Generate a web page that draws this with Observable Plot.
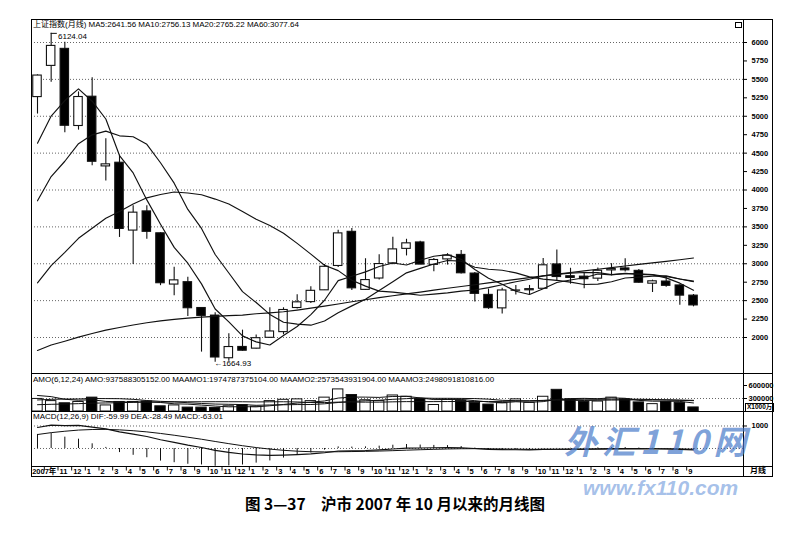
<!DOCTYPE html>
<html><head><meta charset="utf-8">
<script src="https://cdn.jsdelivr.net/npm/d3@7"></script>
<script src="https://cdn.jsdelivr.net/npm/@observablehq/plot@0.6"></script>
<style>
html,body{margin:0;padding:0;background:#fff;}
#root{position:relative;width:806px;height:541px;overflow:hidden;font-family:"Liberation Sans",Arial,sans-serif;color:#000}
.abs{position:absolute}
.txt{position:absolute;white-space:nowrap;line-height:1;font-family:"Liberation Sans","Noto Sans CJK SC",sans-serif;color:#000}
.ln{position:absolute;background:#000}
</style></head><body><div id="root"></div>
<script>
// ---- data (monthly Shanghai Composite, Sep 2007 - Sep 2011) ----
const dateLabels = ["2007年","","11","12",
  "1","2","3","4","5","6","7","8","9","10","11","12",
  "1","2","3","4","5","6","7","8","9","10","11","12",
  "1","2","3","4","5","6","7","8","9","10","11","12",
  "1","2","3","4","5","6","7","8","9"];
const open  = [5260,5683,5914,4868,5265,4320,4370,3450,3710,3413,2718,2750,2400,2297,1719,1872,1849,1996,2073,2400,2480,2640,2970,3433,2646,2800,3005,3202,3289,2985,3059,3120,2867,2578,2395,2634,2640,2661,2991,2831,2825,2798,2910,2937,2904,2730,2759,2706,2568];
const high  = [5562,6124.04,6005,5330,5522,4695,4472,3786,3786,3420,2952,2818,2401,2336,2050,2100,2033,2402,2403,2579,2689,2990,3454,3478,3068,3123,3361,3332,3306,3071,3137,3181,2881,2656,2668,2706,2706,3073,3186,2939,2868,2942,3001,3067,2922,2778,2827,2716,2583];
const low   = [5030,5462,4778,4812,4330,4123,3357,2990,3334,2703,2566,2284,1802,1664.93,1678,1814,1844,1991,2037,2386,2461,2638,2950,2639,2639,2780,2987,3106,2986,2890,2982,2860,2481,2382,2319,2578,2573,2661,2768,2723,2661,2760,2836,2887,2736,2610,2680,2437,2416];
const close = [5552,5954,4871,5261,4383,4348,3472,3693,3433,2736,2775,2397,2293,1729,1871,1821,1991,2082,2373,2477,2633,2959,3412,2667,2779,2996,3195,3277,2989,3051,3110,2871,2592,2398,2638,2638,2656,2979,2820,2808,2791,2905,2928,2911,2743,2762,2701,2568,2435];
const ma5   = [4634,5003,5213,5371,5204,4963,4467,4231,3866,3536,3222,3007,2727,2386,2213,2022,1941,1899,2028,2149,2311,2505,2771,2830,2890,2963,3010,2983,3047,3102,3124,3060,2923,2804,2722,2627,2584,2662,2746,2780,2811,2861,2850,2869,2856,2850,2809,2737,2642];
const ma10  = [3854,4182,4390,4628,4748,4799,4735,4722,4619,4370,4093,3737,3479,3126,2875,2622,2474,2313,2207,2181,2167,2223,2335,2429,2519,2637,2757,2877,2938,2996,3044,3035,2953,2926,2912,2876,2822,2792,2775,2751,2719,2723,2756,2807,2818,2830,2835,2794,2756];
const ma20  = [2742,2975,3154,3345,3482,3616,3709,3810,3894,3939,3973,3959,3935,3877,3811,3710,3604,3518,3413,3276,3130,2980,2907,2777,2697,2629,2616,2595,2573,2588,2605,2629,2644,2677,2716,2756,2790,2835,2857,2873,2881,2879,2854,2867,2865,2853,2828,2793,2765];
const ma60  = [1824,1898,1950,2005,2055,2100,2135,2170,2200,2225,2245,2262,2276,2287,2296,2304,2322,2334,2350,2372,2398,2425,2455,2485,2512,2540,2566,2592,2616,2642,2668,2692,2716,2740,2764,2788,2812,2836,2860,2882,2904,2926,2948,2970,2992,3012,3032,3054,3078];
// turnover, units of 1000万 yuan
const amo    = [290000,240000,190000,220000,320000,140000,220000,220000,230000,120000,140000,90000,90000,80000,120000,150000,110000,240000,270000,280000,240000,320000,510000,380000,260000,240000,370000,340000,290000,150000,270000,250000,200000,160000,190000,280000,200000,340000,500000,280000,220000,230000,320000,280000,210000,170000,220000,200000,93759];
const maamo1 = [370000,343000,282000,260000,270000,233000,222000,218000,225000,208000,178000,170000,148000,125000,107000,112000,107000,132000,162000,195000,215000,243000,310000,333000,332000,325000,347000,350000,313000,275000,277000,278000,250000,220000,203000,225000,213000,228000,278000,298000,303000,295000,315000,305000,257000,238000,238000,233000,197479];
const maamo2 = [266000,281000,287000,289000,299000,298000,296000,281000,253000,234000,224000,202000,185000,172000,166000,160000,143000,151000,155000,160000,161000,178000,208000,233000,247000,260000,281000,297000,312000,304000,304000,302000,298000,285000,258000,250000,245000,253000,264000,259000,253000,260000,264000,267000,268000,268000,271000,264000,257354];
const maamo3 = [157000,166000,173000,181000,193000,197000,204000,211000,216000,218000,222000,224000,225000,226000,226000,225000,221000,224000,225000,220000,207000,206000,216000,217000,216000,216000,223000,228000,227000,228000,230000,231000,230000,231000,233000,241000,246000,257000,273000,278000,283000,282000,284000,284000,283000,277000,265000,257000,249809];
const dif  = [933,1036,1019,1025,948,874,737,638,533,389,274,152,46,-83,-172,-243,-283,-303,-293,-273,-242,-189,-109,-104,-91,-62,-23,15,21,31,43,33,2,-37,-49,-57,-62,-39,-33,-29,-27,-16,-5,2,-6,-11,-19,-36,-60];
const dea  = [621,704,767,818,844,850,828,790,738,669,590,502,411,312,215,124,42,-27,-80,-119,-143,-152,-144,-136,-127,-114,-96,-74,-55,-37,-21,-11,-8,-14,-21,-28,-35,-36,-35,-34,-33,-29,-24,-19,-17,-15,-16,-20,-28];
const macd = [625,665,505,414,208,48,-182,-303,-411,-560,-631,-701,-731,-790,-774,-733,-650,-553,-425,-308,-197,-73,70,63,72,104,146,177,152,137,128,86,20,-47,-56,-58,-54,-6,4,10,11,27,38,42,21,9,-6,-32,-63];
const priceTicks = [2000,2250,2500,2750,3000,3250,3500,3750,4000,4250,4500,4750,5000,5250,5500,5750,6000];
const priceGrid = [2000,2500,3000,3500,4000,4500,5000,5500,6000];
const volTicks = [300000,600000];
const macdTicks = [1000];

const rows = open.map((o,i)=>({i, o, h:high[i], l:low[i], c:close[i], ma5:ma5[i], ma10:ma10[i], ma20:ma20[i], ma60:ma60[i],
  amo:amo[i], m1:maamo1[i], m2:maamo2[i], m3:maamo3[i], dif:dif[i], dea:dea[i], macd:macd[i], lab:dateLabels[i], up: close[i]>=o}));

// ---- layout ----
const root = document.getElementById("root");
const L = 31, R = 772, AX = 743;
const W = R - L, MR = R - AX;
const step = 13.667;
const xdom = [-0.439, -0.439 + (AX - L)/step];
const baseStyle = {background:"none", color:"#000", fontFamily:"Liberation Sans, Arial, sans-serif", fontSize:"7.5px", fontWeight:"bold", overflow:"visible"};
const ink = "#111";

function place(node, top){ const d=document.createElement("div"); d.className="abs"; d.style.left=L+"px"; d.style.top=top+"px"; d.style.width=W+"px"; d.append(node); root.append(d); }
function line(x,y,w,h){ const d=document.createElement("div"); d.className="ln"; Object.assign(d.style,{left:x+"px",top:y+"px",width:w+"px",height:h+"px"}); root.append(d); }
function text(s,x,y,css){ const d=document.createElement("div"); d.className="txt"; d.textContent=s; d.style.left=x+"px"; d.style.top=y+"px"; if(css) Object.assign(d.style,css); root.append(d); return d; }

// price panel
const price = Plot.plot({
  width: W, height: 373-19, margin: 0, marginRight: MR, style: baseStyle,
  x: {domain: xdom, axis: null},
  y: {domain: [1512, 6312], axis: "right", ticks: priceTicks, tickSize: 3, tickPadding: 5, tickFormat: d=>String(d), label: null},
  marks: [
    Plot.ruleY(priceGrid, {stroke:"#666", strokeDasharray:"1,2"}),
    Plot.ruleX(rows, {x:"i", y1:"l", y2:"h", stroke:ink, strokeWidth:1.1}),
    Plot.rect(rows, {x1:d=>d.i-0.31, x2:d=>d.i+0.31, y1:"o", y2:"c", fill:d=>d.up?"#fff":"#000", stroke:ink, strokeWidth:1.1}),
    Plot.line(rows, {x:"i", y:"ma5", stroke:ink, strokeWidth:1.15}),
    Plot.line(rows, {x:"i", y:"ma10", stroke:ink, strokeWidth:1.15}),
    Plot.line(rows, {x:"i", y:"ma20", stroke:ink, strokeWidth:1.15}),
    Plot.line(rows, {x:"i", y:"ma60", stroke:ink, strokeWidth:1.15}),
    Plot.ruleY([rows[1]], {x1:"i", x2:d=>d.i+0.45, y:"h", stroke:ink}),
    Plot.text([rows[1]], {x:d=>d.i+0.5, y:"h", text:d=>d.h.toFixed(2), textAnchor:"start", dy:3.5, fontSize:8, fontWeight:"normal"}),
    Plot.text([rows[13]], {x:"i", y:"l", text:d=>"←"+d.l.toFixed(2), textAnchor:"start", dx:-1, dy:1, fontSize:8, fontWeight:"normal"})
  ]
});
place(price, 19);

// volume panel
const vol = Plot.plot({
  width: W, height: 411-373, margin: 0, marginRight: MR, style: baseStyle,
  x: {domain: xdom, axis: null},
  y: {domain: [0, 876923], axis: "right", ticks: volTicks, tickSize: 3, tickPadding: 2, tickFormat: d3.format("d"), label: null},
  marks: [
    Plot.ruleY([300000], {stroke:"#666", strokeDasharray:"1,2"}),
    Plot.rect(rows, {x1:d=>d.i-0.38, x2:d=>d.i+0.38, y1:0, y2:"amo", fill:d=>d.up?"#fff":"#000", stroke:ink}),
    Plot.line(rows, {x:"i", y:"m1", stroke:ink, strokeWidth:1}),
    Plot.line(rows, {x:"i", y:"m2", stroke:ink, strokeWidth:1}),
    Plot.line(rows, {x:"i", y:"m3", stroke:ink, strokeWidth:1})
  ]
});
place(vol, 373);

// MACD panel
const mac = Plot.plot({
  width: W, height: 466-411, margin: 0, marginRight: MR, style: baseStyle,
  x: {domain: xdom, axis: null},
  y: {domain: [-800, 1644], axis: "right", ticks: macdTicks, tickSize: 3, tickPadding: 5, tickFormat: d=>String(d), label: null},
  marks: [
    Plot.ruleY([1000, 0], {stroke:"#666", strokeDasharray:"1,2"}),
    Plot.ruleX(rows, {x:"i", y1:0, y2:"macd", stroke:ink, strokeWidth:1}),
    Plot.line(rows, {x:"i", y:"dif", stroke:ink, strokeWidth:1.15}),
    Plot.line(rows, {x:"i", y:"dea", stroke:ink, strokeWidth:1})
  ]
});
place(mac, 411);

// date row
const dates = Plot.plot({
  width: W, height: 10, margin: 0, marginRight: MR, style: baseStyle,
  x: {domain: xdom, axis: null},
  y: {domain: [0, 1], axis: null},
  marks: [
    Plot.ruleX(rows.slice(1), {x:d=>d.i-0.5, y1:1, y2:0.55, stroke:ink}),
    Plot.text(rows, {x:d=>d.i-0.5, y:0.45, text:"lab", textAnchor:"start", dx:1.5, fontSize:7.5, fontWeight:"bold", fontFamily:"Liberation Sans, Noto Sans CJK SC, sans-serif"})
  ]
});
place(dates, 466);

// frame
line(L, 19, W, 1); line(L, 476, W+1, 1); line(L, 19, 1, 457); line(R, 19, 1, 458);
line(AX, 19, 1, 457);
line(L, 373, W, 1); line(L, 411, W, 1); line(L, 466, W, 1);

// headers
text("上证指数(月线) MA5:2641.56 MA10:2756.13 MA20:2765.22 MA60:3077.64", 33, 21, {fontSize:"8px"});
text("AMO(6,12,24) AMO:937588305152.00 MAAMO1:1974787375104.00 MAAMO2:2573543931904.00 MAAMO3:2498091810816.00", 33, 376, {fontSize:"8px"});
text("MACD(12,26,9) DIF:-59.99 DEA:-28.49 MACD:-63.01", 33, 413, {fontSize:"8px"});
text("X1000万", 745, 403, {fontSize:"6.5px", border:"1px solid #000", padding:"0 1px", fontWeight:"bold"});
text("月线", 750, 467, {fontSize:"8px", fontWeight:"bold"});
const ic = document.createElement("div"); ic.className="abs"; Object.assign(ic.style,{left:"735px",top:"22px",width:"5px",height:"4px",border:"1px solid #000"}); root.append(ic);

// watermark
text("外汇110网", 564, 424, {fontSize:"33px", fontWeight:"bold", fontStyle:"italic", letterSpacing:"5px", color:"rgba(70,120,200,0.7)", fontFamily:"Noto Sans CJK SC, sans-serif"});
text("www.fx110.com", 583, 477, {fontSize:"21px", fontWeight:"bold", fontStyle:"italic", color:"rgba(90,140,215,0.55)", fontFamily:"Liberation Sans, sans-serif"});

// caption
text("图 3—37　沪市 2007 年 10 月以来的月线图", 0, 496, {width:"806px", textAlign:"center", fontSize:"15.5px", fontWeight:"bold", fontFamily:"Noto Sans CJK SC, sans-serif", left:"-8px"});
</script></body></html>
